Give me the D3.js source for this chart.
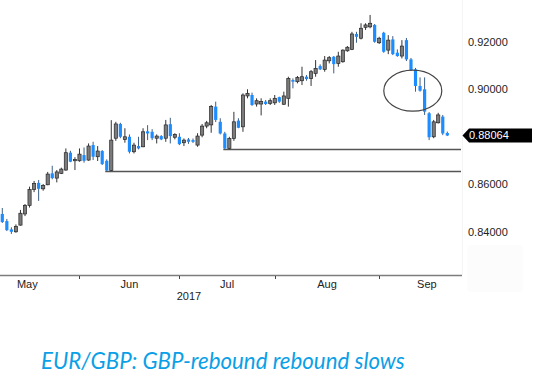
<!DOCTYPE html>
<html>
<head>
<meta charset="utf-8">
<script src="https://cdnjs.cloudflare.com/ajax/libs/d3/7.8.5/d3.min.js"></script>
<style>
  body { margin: 0; background: #fff; }
  svg { display: block; font-family: "Liberation Sans", Arial, sans-serif; }
</style>
</head>
<body>
<svg id="chart" width="535" height="378"></svg>
<script>
// EUR/GBP daily candles, 9 May - 22 Sep 2017 (weekdays)
var firstDay = new Date(2017, 4, 9),
    lastDay = new Date(2017, 8, 22);

var opens = [
  0.8476, 0.8446, 0.8411, 0.8401, 0.8429, 0.8476, 0.8512, 0.8579, 0.8607, 0.8582,
  0.8599, 0.8647, 0.8627, 0.8647, 0.8661, 0.8734, 0.8700, 0.8700, 0.8724, 0.8703,
  0.8766, 0.8717, 0.8741, 0.8700, 0.8659, 0.8795, 0.8855, 0.8790, 0.8801, 0.8738,
  0.8762, 0.8759, 0.8824, 0.8822, 0.8795, 0.8804, 0.8795, 0.8854, 0.8799, 0.8801,
  0.8776, 0.8790, 0.8787, 0.8766, 0.8808, 0.8846, 0.8851, 0.8928, 0.8864, 0.8815,
  0.8752, 0.8794, 0.8869, 0.8843, 0.8973, 0.8977, 0.8939, 0.8939, 0.8949, 0.8942,
  0.8944, 0.8968, 0.8938, 0.8963, 0.9040, 0.9033, 0.9037, 0.9054, 0.9047, 0.9068,
  0.9099, 0.9085, 0.9121, 0.9138, 0.9110, 0.9117, 0.9163, 0.9169, 0.9234, 0.9216,
  0.9262, 0.9264, 0.9272, 0.9197, 0.9239, 0.9166, 0.9211, 0.9155, 0.9141, 0.9208,
  0.9127, 0.9085, 0.9015, 0.9001, 0.8900, 0.8801, 0.8860, 0.8886, 0.8817
];
var highs = [
  0.8501, 0.8455, 0.8420, 0.8432, 0.8493, 0.8518, 0.8591, 0.8615, 0.8619, 0.8602,
  0.8653, 0.8679, 0.8661, 0.8671, 0.8752, 0.8742, 0.8715, 0.8752, 0.8756, 0.8773,
  0.8780, 0.8762, 0.8745, 0.8706, 0.8871, 0.8864, 0.8860, 0.8837, 0.8811, 0.8776,
  0.8801, 0.8837, 0.8850, 0.8833, 0.8811, 0.8808, 0.8872, 0.8881, 0.8816, 0.8816,
  0.8794, 0.8796, 0.8794, 0.8816, 0.8855, 0.8868, 0.8935, 0.8949, 0.8879, 0.8822,
  0.8801, 0.8906, 0.8879, 0.8984, 0.9001, 0.8987, 0.8963, 0.8963, 0.8956, 0.8963,
  0.8977, 0.8970, 0.8991, 0.9054, 0.9047, 0.9057, 0.9096, 0.9061, 0.9082, 0.9124,
  0.9106, 0.9141, 0.9141, 0.9141, 0.9159, 0.9169, 0.9183, 0.9243, 0.9243, 0.9279,
  0.9279, 0.9314, 0.9276, 0.9222, 0.9243, 0.9229, 0.9225, 0.9169, 0.9208, 0.9217,
  0.9133, 0.9091, 0.9051, 0.9051, 0.8905, 0.8872, 0.8902, 0.8893, 0.8823
];
var lows = [
  0.8438, 0.8404, 0.8392, 0.8397, 0.8427, 0.8467, 0.8503, 0.8568, 0.8531, 0.8574,
  0.8597, 0.8622, 0.8609, 0.8644, 0.8658, 0.8694, 0.8661, 0.8696, 0.8692, 0.8700,
  0.8703, 0.8699, 0.8682, 0.8657, 0.8657, 0.8784, 0.8795, 0.8776, 0.8731, 0.8731,
  0.8748, 0.8757, 0.8787, 0.8787, 0.8773, 0.8787, 0.8780, 0.8773, 0.8790, 0.8766,
  0.8762, 0.8771, 0.8775, 0.8759, 0.8799, 0.8837, 0.8818, 0.8863, 0.8811, 0.8748,
  0.8748, 0.8784, 0.8837, 0.8822, 0.8963, 0.8931, 0.8928, 0.8891, 0.8935, 0.8935,
  0.8935, 0.8944, 0.8935, 0.8928, 0.9005, 0.9026, 0.9019, 0.9037, 0.9015, 0.9054,
  0.9082, 0.9075, 0.9110, 0.9068, 0.9096, 0.9113, 0.9159, 0.9166, 0.9197, 0.9211,
  0.9251, 0.9258, 0.9197, 0.9192, 0.9155, 0.9149, 0.9145, 0.9138, 0.9131, 0.9120,
  0.9078, 0.8991, 0.8991, 0.8893, 0.8787, 0.8795, 0.8857, 0.8808, 0.8804
];
var closes = [
  0.8442, 0.8408, 0.8401, 0.8424, 0.8479, 0.8512, 0.8579, 0.8604, 0.8582, 0.8596,
  0.8644, 0.8627, 0.8653, 0.8665, 0.8734, 0.8696, 0.8706, 0.8728, 0.8700, 0.8762,
  0.8717, 0.8741, 0.8686, 0.8659, 0.8787, 0.8855, 0.8801, 0.8801, 0.8738, 0.8766,
  0.8752, 0.8822, 0.8815, 0.8795, 0.8804, 0.8790, 0.8851, 0.8804, 0.8811, 0.8770,
  0.8787, 0.8780, 0.8780, 0.8804, 0.8846, 0.8860, 0.8928, 0.8872, 0.8815, 0.8752,
  0.8794, 0.8864, 0.8839, 0.8977, 0.8984, 0.8935, 0.8953, 0.8949, 0.8939, 0.8953,
  0.8963, 0.8949, 0.8973, 0.9047, 0.9033, 0.9051, 0.9054, 0.9044, 0.9075, 0.9089,
  0.9085, 0.9124, 0.9134, 0.9107, 0.9141, 0.9166, 0.9178, 0.9234, 0.9222, 0.9258,
  0.9272, 0.9279, 0.9201, 0.9216, 0.9159, 0.9208, 0.9149, 0.9141, 0.9183, 0.9127,
  0.9082, 0.9015, 0.8995, 0.8907, 0.8799, 0.8864, 0.8893, 0.8815, 0.88064
];

var priceTicks = [0.84, 0.86, 0.88, 0.90, 0.92];
var yearLabel = "2017";
var title = "EUR/GBP: GBP-rebound rebound slows";

// support lines (level, index of the candle they start from)
var supportLevels = [0.8657, 0.8748];
var supportStart = [23, 49];

// ellipse round the break, in data space
var ringCenter = [90.4, 0.8995];

function isWeekday(d) { return d.getDay() !== 0 && d.getDay() !== 6; }

var days = d3.timeDay.range(firstDay, d3.timeDay.offset(lastDay, 1)).filter(isWeekday);

var candles = days.map(function(d, i) {
  return { date: d, i: i, o: opens[i], h: highs[i], l: lows[i], c: closes[i] };
});

// index of a calendar date on the weekday axis
function tradingIndex(date) {
  if (date >= firstDay) return d3.timeDay.range(firstDay, date).filter(isWeekday).length;
  return -d3.timeDay.range(date, firstDay).filter(isWeekday).length;
}

var svg = d3.select("#chart"),
    plotRight = 462,
    plotBottom = 275;

svg.append("rect").attr("width", 535).attr("height", 378).attr("fill", "#fff");

var x = d3.scaleLinear().domain([0, candles.length - 1]).range([2.3, 447.3]);
var y = d3.scaleLinear().domain([0.8219, 0.9377]).range([plotBottom, 0]);

// faint separator and the empty box on the price pane
svg.append("line")
    .attr("x1", plotRight + 0.5).attr("x2", plotRight + 0.5)
    .attr("y1", 0).attr("y2", plotBottom)
    .attr("stroke", "#f4f4f4");
svg.append("rect")
    .attr("x", 467).attr("y", 245).attr("width", 56).attr("height", 47).attr("rx", 4)
    .attr("fill", "#fcfcfc");

// support lines
var g = svg.append("g");
g.selectAll(".support")
  .data(supportLevels)
  .enter().append("line")
    .attr("class", "support")
    .attr("x1", function(d, i) { return x(supportStart[i]) - 1.5; })
    .attr("x2", plotRight - 1)
    .attr("y1", function(d) { return Math.round(y(d)) + 0.5; })
    .attr("y2", function(d) { return Math.round(y(d)) + 0.5; })
    .attr("stroke", "#555")
    .attr("stroke-width", 1.4);

// candles
var bodyW = 3.2;
var candle = g.selectAll(".candle")
  .data(candles)
  .enter().append("g")
    .attr("class", "candle");

candle.append("line")
    .attr("x1", function(d) { return x(d.i); })
    .attr("x2", function(d) { return x(d.i); })
    .attr("y1", function(d) { return y(d.h); })
    .attr("y2", function(d) { return y(d.l); })
    .attr("stroke", function(d) { return d.c >= d.o ? "#333" : "#3d5f86"; })
    .attr("stroke-width", 1);

candle.append("rect")
    .attr("x", function(d) { return x(d.i) - bodyW / 2; })
    .attr("width", bodyW)
    .attr("y", function(d) { return y(Math.max(d.o, d.c)); })
    .attr("height", function(d) { return Math.max(1.2, Math.abs(y(d.o) - y(d.c))); })
    .attr("fill", function(d) { return d.c >= d.o ? "#7b7b7b" : "#1c8cff"; })
    .attr("stroke", function(d) { return d.c >= d.o ? "#262626" : "none"; })
    .attr("stroke-width", 0.7);

// ellipse
svg.append("ellipse")
    .attr("cx", x(ringCenter[0]))
    .attr("cy", y(ringCenter[1]))
    .attr("rx", 29)
    .attr("ry", 20.5)
    .attr("fill", "none")
    .attr("stroke", "#444")
    .attr("stroke-width", 1.2);

// bottom axis: month starts as ticks, names centred in each month
var months = d3.timeMonth.range(new Date(2017, 4, 1), new Date(2017, 10, 1));
var monthPos = months.map(function(m) { return x(tradingIndex(m)); });
var fmtMonth = d3.timeFormat("%b");

svg.append("line")
    .attr("x1", 0).attr("x2", plotRight)
    .attr("y1", plotBottom + 0.5).attr("y2", plotBottom + 0.5)
    .attr("stroke", "#7d7d7d")
    .attr("stroke-width", 1.6);

svg.selectAll(".mtick")
  .data(monthPos.filter(function(p) { return p > 0 && p < plotRight; }))
  .enter().append("line")
    .attr("class", "mtick")
    .attr("x1", function(d) { return Math.round(d) + 0.5; })
    .attr("x2", function(d) { return Math.round(d) + 0.5; })
    .attr("y1", plotBottom + 1)
    .attr("y2", plotBottom + 4)
    .attr("stroke", "#444");

svg.selectAll(".mlabel")
  .data(months.slice(0, months.length - 1).map(function(m, i) {
      return { name: fmtMonth(m), pos: (monthPos[i] + monthPos[i + 1]) / 2 };
    }).filter(function(d) { return d.pos > 0 && d.pos < plotRight; }))
  .enter().append("text")
    .attr("class", "mlabel")
    .attr("x", function(d) { return d.pos; })
    .attr("y", 288)
    .attr("text-anchor", "middle")
    .attr("font-size", 11)
    .attr("fill", "#222")
    .text(function(d) { return d.name; });

svg.append("text")
    .attr("x", 189)
    .attr("y", 300)
    .attr("text-anchor", "middle")
    .attr("font-size", 11)
    .attr("fill", "#222")
    .text(yearLabel);

// price axis on the right
var last = candles[candles.length - 1].c;
var fmtPrice = d3.format(".5f");

svg.selectAll(".plabel")
  .data(priceTicks.filter(function(t) { return Math.abs(y(t) - y(last)) > 12; }))
  .enter().append("text")
    .attr("class", "plabel")
    .attr("x", 468)
    .attr("y", function(d) { return y(d); })
    .attr("dy", "0.35em")
    .attr("font-size", 11)
    .attr("fill", "#222")
    .text(function(d) { return fmtPrice(d); });

// last price tag
var ly = y(last);
svg.append("path")
    .attr("d", "M462.5," + ly + " L469," + (ly - 7) + " L532," + (ly - 7) +
               " L532," + (ly + 7) + " L469," + (ly + 7) + " Z")
    .attr("fill", "#000");
svg.append("text")
    .attr("x", 469)
    .attr("y", ly)
    .attr("dy", "0.36em")
    .attr("font-size", 11)
    .attr("fill", "#fff")
    .text(fmtPrice(last));

// caption
var cap = svg.append("text")
    .attr("x", 41)
    .attr("y", 369)
    .attr("font-family", "Lato, 'Open Sans', sans-serif")
    .attr("font-style", "italic")
    .attr("font-size", 21)
    .attr("fill", "#0ba0e6")
    .text(title);
var w = cap.node().getComputedTextLength();
cap.attr("font-size", 21 * 364 / w);
</script>
</body>
</html>
